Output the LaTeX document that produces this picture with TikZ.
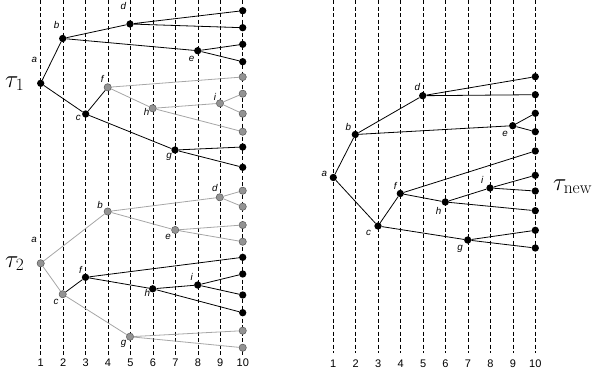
\documentclass[tikz,border=0pt]{standalone}
\usepackage{fontspec}
\setsansfont{Liberation Sans}
\begin{document}
\begin{tikzpicture}[x=1pt, y=-1pt,
    vline/.style={dash pattern=on 4pt off 2.5pt, line width=0.6pt},
    bdot/.style={circle, fill=black, inner sep=0pt, minimum size=7.3pt},
    gdot/.style={circle, fill=gray!85, draw=black!65, line width=0.5pt, inner sep=0pt, minimum size=7.3pt},
    bline/.style={line width=0.8pt},
    gline/.style={line width=0.8pt, black!35},
    lab/.style={font=\fontsize{9.8}{11}\selectfont\sffamily\itshape, inner sep=0pt},
    num/.style={font=\fontsize{11}{13}\selectfont\sffamily, inner sep=0pt},
    tau/.style={font=\fontsize{25}{30}\selectfont, anchor=base west, inner sep=0pt}]
    \useasboundingbox (0,0) rectangle (600,373);

    % Time axes
    \foreach \k in {1,...,10} {
        \draw[vline] ({40.7+22.45*(\k-1)},0) -- ++(0,355);
        \node[num] (nl\k) at ({40.7+22.45*(\k-1)},362.3) {\k};
        \draw[vline] ({333.3+22.45*(\k-1)},0) -- ++(0,353);
        \node[num] (nr\k) at ({333.3+22.45*(\k-1)},363.3) {\k};
    }

    % Tree tau_1
    \node[tau] (t1) at (5,87) {$\tau_1$};
    \node[bdot] (a1) at (40.7,83.3) {};
    \node[bdot] (b1) at (62.7,38.5) {};
    \node[bdot] (d1) at (130,24) {};
    \node[bdot] (e1) at (197.7,50.7) {};
    \node[bdot] (c1) at (85.7,114) {};
    \node[gdot] (f1) at (107.7,87.3) {};
    \node[gdot] (h1) at (152.7,108.3) {};
    \node[gdot] (i1) at (220,103.3) {};
    \node[bdot] (g1) at (175,150) {};
    \foreach \y/\s [count=\k] in {10.7/bdot, 27.7/bdot, 44.3/bdot, 61.7/bdot, 77/gdot,
        93.7/gdot, 113.7/gdot, 131.7/gdot, 147/bdot, 167.3/bdot}
        \node[\s] (u\k) at (242.7,\y) {};
    \draw[bline] (a1) -- (b1) (a1) -- (c1) (b1) -- (d1) (b1) -- (e1)
        (d1) -- (u1) (d1) -- (u2) (e1) -- (u3) (e1) -- (u4)
        (c1) -- (f1) (c1) -- (g1) (g1) -- (u9) (g1) -- (u10);
    \draw[gline] (f1) -- (u5) (f1) -- (h1) (h1) -- (i1) (h1) -- (u8)
        (i1) -- (u6) (i1) -- (u7);
    \node[lab] (la1) at ([shift={(-6.4,-23.4)}]a1) {a};
    \node[lab] (lb1) at ([shift={(-6,-13.7)}]b1) {b};
    \node[lab] (lc1) at ([shift={(-7.3,3.5)}]c1) {c};
    \node[lab] (ld1) at ([shift={(-6.7,-18)}]d1) {d};
    \node[lab] (le1) at ([shift={(-6,8.6)}]e1) {e};
    \node[lab] (lf1) at ([shift={(-5.4,-8.3)}]f1) {f};
    \node[lab] (lg1) at ([shift={(-6,7.3)}]g1) {g};
    \node[lab] (lh1) at ([shift={(-6,4)}]h1) {h};
    \node[lab] (li1) at ([shift={(-5,-6.6)}]i1) {i};

    % Tree tau_2
    \node[tau] (t2) at (5,267) {$\tau_2$};
    \node[gdot] (a2) at (40.7,263.3) {};
    \node[gdot] (b2) at (107.7,211.5) {};
    \node[gdot] (d2) at (219.8,197.3) {};
    \node[gdot] (e2) at (175.2,230) {};
    \node[gdot] (c2) at (62.7,294.2) {};
    \node[bdot] (f2) at (85.5,277.3) {};
    \node[bdot] (h2) at (152.7,288.8) {};
    \node[bdot] (i2) at (197.7,285) {};
    \node[gdot] (g2) at (130,336.7) {};
    \foreach \y/\s [count=\k] in {190.7/gdot, 206.7/gdot, 225/gdot, 241.7/gdot, 257.3/bdot,
        274/bdot, 295/bdot, 312.7/bdot, 330.7/gdot, 347.7/gdot}
        \node[\s] (v\k) at (242.7,\y) {};
    \draw[gline] (a2) -- (b2) (a2) -- (c2) (b2) -- (d2) (b2) -- (e2)
        (d2) -- (v1) (d2) -- (v2) (e2) -- (v3) (e2) -- (v4)
        (c2) -- (g2) (g2) -- (v9) (g2) -- (v10);
    \draw[bline] (c2) -- (f2) (f2) -- (v5) (f2) -- (h2) (h2) -- (i2) (h2) -- (v8)
        (i2) -- (v6) (i2) -- (v7);
    \node[lab] (la2) at ([shift={(-6.7,-23.3)}]a2) {a};
    \node[lab] (lb2) at ([shift={(-7.7,-6.3)}]b2) {b};
    \node[lab] (lc2) at ([shift={(-6.7,7.3)}]c2) {c};
    \node[lab] (ld2) at ([shift={(-5,-9)}]d2) {d};
    \node[lab] (le2) at ([shift={(-7,6.7)}]e2) {e};
    \node[lab] (lf2) at ([shift={(-5,-7.3)}]f2) {f};
    \node[lab] (lg2) at ([shift={(-6.5,7)}]g2) {g};
    \node[lab] (lh2) at ([shift={(-5.4,4.6)}]h2) {h};
    \node[lab] (li2) at ([shift={(-6,-7.7)}]i2) {i};

    % Tree tau_new
    \node[tau] (tn) at (553,190) {$\tau_{\mathrm{new}}$};
    \node[bdot] (aN) at (333.3,177.5) {};
    \node[bdot] (bN) at (355.3,134.5) {};
    \node[bdot] (dN) at (422.7,95.7) {};
    \node[bdot] (eN) at (512.7,125.7) {};
    \node[bdot] (cN) at (378,226) {};
    \node[bdot] (fN) at (400.3,193.5) {};
    \node[bdot] (hN) at (445.3,202) {};
    \node[bdot] (iN) at (490,188) {};
    \node[bdot] (gN) at (467.7,240) {};
    \foreach \y [count=\k] in {76.7, 94.7, 113.3, 131.7, 151, 175.3, 191, 210.7, 230.3, 248}
        \node[bdot] (w\k) at (535.3,\y) {};
    \draw[bline] (aN) -- (bN) (aN) -- (cN) (bN) -- (dN) (bN) -- (eN)
        (dN) -- (w1) (dN) -- (w2) (eN) -- (w3) (eN) -- (w4)
        (cN) -- (fN) (cN) -- (gN) (fN) -- (w5) (fN) -- (hN) (hN) -- (iN)
        (hN) -- (w8) (iN) -- (w6) (iN) -- (w7) (gN) -- (w9) (gN) -- (w10);
    \node[lab] (laN) at ([shift={(-9,-3.7)}]aN) {a};
    \node[lab] (lbN) at ([shift={(-7,-8)}]bN) {b};
    \node[lab] (lcN) at ([shift={(-9.4,6.7)}]cN) {c};
    \node[lab] (ldN) at ([shift={(-5.4,-9)}]dN) {d};
    \node[lab] (leN) at ([shift={(-7.7,8.3)}]eN) {e};
    \node[lab] (lfN) at ([shift={(-5,-7.7)}]fN) {f};
    \node[lab] (lgN) at ([shift={(-7.7,9.3)}]gN) {g};
    \node[lab] (lhN) at ([shift={(-6.7,8.7)}]hN) {h};
    \node[lab] (liN) at ([shift={(-7.7,-8)}]iN) {i};
\end{tikzpicture}
\end{document}
